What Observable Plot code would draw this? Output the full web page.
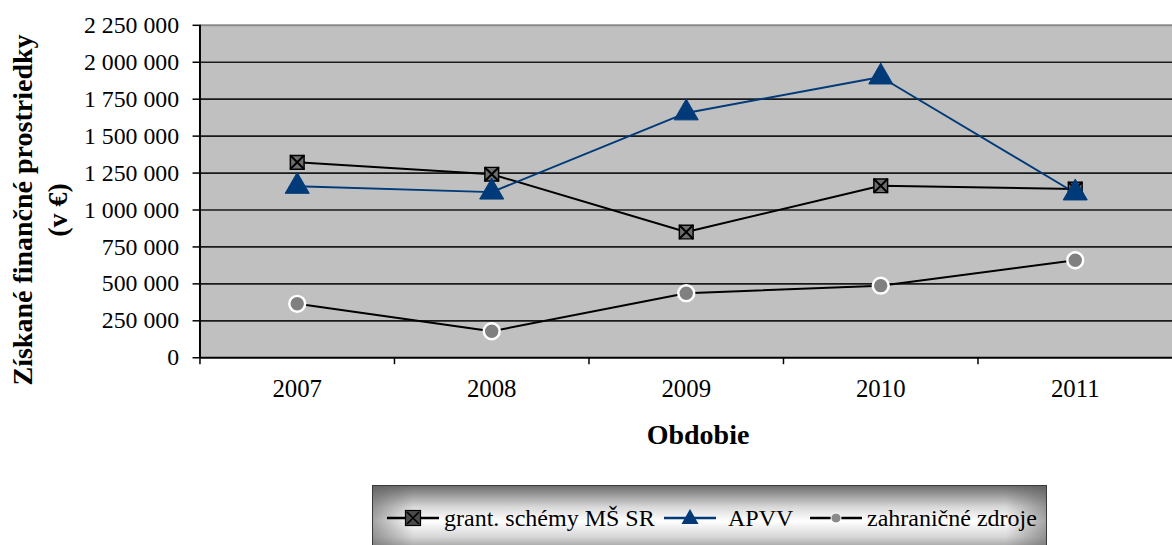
<!DOCTYPE html>
<html>
<head>
<meta charset="utf-8">
<script src="https://cdn.jsdelivr.net/npm/d3@7"></script>
<script src="https://cdn.jsdelivr.net/npm/@observablehq/plot@0.6"></script>
<style>
  html, body { margin: 0; padding: 0; overflow: hidden; background: #fff; }
  body { width: 1172px; height: 545px; position: relative; font-family: "Liberation Serif", serif; }
  #chart { position: absolute; left: 0; top: 0; }
  .ytitle { position: absolute; left: 40px; top: 210px; transform: translate(-50%, -50%) rotate(-90deg);
    font-family: "Liberation Serif", serif; font-weight: bold; font-size: 28px; line-height: 35px; text-align: center; white-space: nowrap; color: #000; }
  .xtitle { position: absolute; left: 698px; top: 435px; transform: translate(-50%, -50%);
    font-family: "Liberation Serif", serif; font-weight: bold; font-size: 28px; white-space: nowrap; color: #000; }
  .legend { position: absolute; left: 372px; top: 485px; width: 675px; height: 72px; box-sizing: border-box;
    border: 1px solid #3a3a3a; overflow: hidden;
    background: linear-gradient(to bottom, #6e6e6e 0%, #d8d8d8 30%, #ffffff 50%, #d8d8d8 72%, #7a7a7a 100%); }
  .legend .edge { position: absolute; left: 0; top: 0; width: 100%; height: 100%;
    background: linear-gradient(to right, rgba(90,90,90,0.55) 0%, rgba(255,255,255,0) 6%, rgba(255,255,255,0) 94%, rgba(90,90,90,0.55) 100%); }
  .legend .sw { position: absolute; top: 19px; }
  .legend .txt { position: absolute; top: 17px; height: 30px; line-height: 30px; font-family: "Liberation Serif", serif; font-size: 24px; white-space: nowrap; color: #000; }
</style>
</head>
<body>
<div id="chart"></div>
<div class="ytitle">Získané finančné prostriedky<br>(v €)</div>
<div class="xtitle">Obdobie</div>
<div class="legend" id="legend"><div class="edge"></div></div>
<script>
// ---- data ----
const years = [2007, 2008, 2009, 2010, 2011];
const grantSchemy = [1323000, 1242000, 851000, 1164000, 1142000];
const apvv = [1160000, 1121000, 1657000, 1900000, 1115000];
const zahranicne = [365000, 179000, 437000, 488000, 660000];
const yTicks = [0, 250000, 500000, 750000, 1000000, 1250000, 1500000, 1750000, 2000000, 2250000];
const seriesNames = ["grant. schémy MŠ SR", "APVV", "zahraničné zdroje"];

const navy = "#003a78";
const rows = [];
years.forEach((y, i) => {
  rows.push({year: y, value: grantSchemy[i], series: seriesNames[0]});
  rows.push({year: y, value: apvv[i], series: seriesNames[1]});
  rows.push({year: y, value: zahranicne[i], series: seriesNames[2]});
});
const grantRows = rows.filter(d => d.series === seriesNames[0]);
const apvvRows = rows.filter(d => d.series === seriesNames[1]);
const zahrRows = rows.filter(d => d.series === seriesNames[2]);
const boundaries = years.map(y => y - 0.5);
const fmt = v => d3.format(",")(v).replace(/,/g, " ");

const chart = Plot.plot({
  width: 1181,
  height: 420,
  marginLeft: 201,
  marginRight: 0,
  marginTop: 25,
  marginBottom: 60,
  style: { fontFamily: "'Liberation Serif', serif", color: "#000", background: "transparent" },
  x: { type: "linear", domain: [2006.5, 2011.5] },
  y: { domain: [0, 2250000] },
  marks: [
    Plot.frame({ fill: "#c0c0c0", stroke: null }),
    Plot.ruleY(yTicks.filter(t => t > 0 && t < 2250000), { stroke: "#1a1a1a", strokeWidth: 1.7 }),
    Plot.ruleY([2250000], { stroke: "#8a8a8a", strokeWidth: 2 }),
    Plot.ruleY([0], { stroke: "#000", strokeWidth: 2 }),
    Plot.ruleX([2006.5], { stroke: "#000", strokeWidth: 2 }),
    Plot.axisY({ ticks: yTicks, tickFormat: fmt, tickSize: 7, tickPadding: 14, fontSize: 24, label: null, stroke: "#000", strokeWidth: 1.5 }),
    Plot.axisX({ ticks: boundaries, tickFormat: () => "", tickSize: 7, label: null, stroke: "#000", strokeWidth: 1.5 }),
    Plot.axisX({ ticks: years, tickFormat: d => String(d), tickSize: 0, tickPadding: 22, fontSize: 25, label: null }),
    Plot.line(zahrRows, { x: "year", y: "value", stroke: "#000", strokeWidth: 2 }),
    Plot.line(grantRows, { x: "year", y: "value", stroke: "#000", strokeWidth: 2 }),
    Plot.line(apvvRows, { x: "year", y: "value", stroke: navy, strokeWidth: 2 }),
    Plot.dot(zahrRows, { x: "year", y: "value", r: 8, fill: "#808080", stroke: "#fff", strokeWidth: 2.5 }),
    Plot.dot(grantRows, { x: "year", y: "value", symbol: "square", r: 7.8, fill: "#6e6e6e", stroke: "#000", strokeWidth: 1.5 }),
    Plot.dot(grantRows, { x: "year", y: "value", symbol: "times", r: 6.5, stroke: "#000", strokeWidth: 2 }),
    Plot.dot(apvvRows, { x: "year", y: "value", symbol: "triangle", r: 9, fill: navy, stroke: navy, strokeWidth: 1 })
  ]
});
document.getElementById("chart").appendChild(chart);

// ---- legend ----
const legend = d3.select("#legend");
const ox = 373; // legend inner left in page coords
const items = [
  { name: seriesNames[0], cx: 413, tx: 444, color: "#000", marker: "square" },
  { name: seriesNames[1], cx: 690, tx: 728, color: navy, marker: "triangle" },
  { name: seriesNames[2], cx: 836, tx: 867, color: "#000", marker: "circle" }
];
items.forEach(it => {
  const svg = legend.append("svg").attr("class", "sw").attr("width", 56).attr("height", 26)
    .style("left", (it.cx - 28 - ox) + "px");
  svg.append("line").attr("x1", 2).attr("x2", 54).attr("y1", 13).attr("y2", 13)
    .attr("stroke", it.color).attr("stroke-width", 2.5);
  if (it.marker === "square") {
    svg.append("rect").attr("x", 20.5).attr("y", 5.5).attr("width", 15).attr("height", 15).attr("fill", "#4a4a4a").attr("stroke", "#000").attr("stroke-width", 1.2);
    svg.append("path").attr("d", "M22,7L34,19M34,7L22,19").attr("stroke", "#000").attr("stroke-width", 1.6);
  } else if (it.marker === "triangle") {
    svg.append("path").attr("d", "M28,4L36.5,19L19.5,19Z").attr("fill", navy);
  } else {
    svg.append("circle").attr("cx", 28).attr("cy", 13).attr("r", 5).attr("fill", "#8a8a8a").attr("stroke", "#fff").attr("stroke-width", 1);
  }
  legend.append("div").attr("class", "txt").style("left", (it.tx - ox) + "px").text(it.name);
});
</script>
</body>
</html>
